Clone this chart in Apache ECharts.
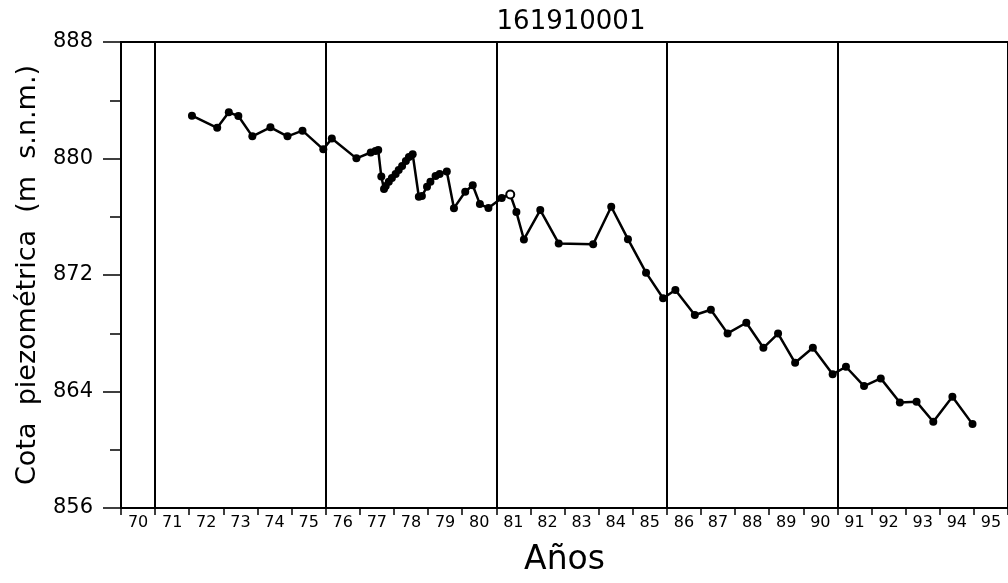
<!DOCTYPE html>
<html>
<head>
<meta charset="utf-8">
<title>161910001</title>
<script src="https://cdn.jsdelivr.net/npm/echarts@6/dist/echarts.min.js"></script>
<style>
  html, body { margin: 0; padding: 0; background: #fff; }
  #chart { width: 1008px; height: 583px; }
</style>
</head>
<body>
<div id="chart"></div>
<script>
// fecha (años decimales, 19xx) y cota piezométrica (m s.n.m.)
const years = [
  72.08, 72.82, 73.16, 73.44, 73.85, 74.38, 74.88, 75.32, 75.93, 76.18,
  76.90, 77.32, 77.46, 77.54, 77.63, 77.71, 77.76, 77.85, 77.94, 78.05,
  78.14, 78.24, 78.35, 78.44, 78.55, 78.73, 78.82, 78.97, 79.07, 79.22,
  79.34, 79.55, 79.76, 80.09, 80.31, 80.52, 80.77, 81.16, 81.41, 81.59,
  81.81, 82.29, 82.83, 83.84, 84.37, 84.86, 85.39, 85.89, 86.25, 86.82,
  87.29, 87.78, 88.33, 88.83, 89.26, 89.76, 90.28, 90.86, 91.25, 91.78,
  92.27, 92.83, 93.32, 93.81, 94.37, 94.96
]
const levels = [
  882.94, 882.11, 883.17, 882.92, 881.52, 882.14, 881.52, 881.91, 880.63, 881.37,
  880.01, 880.41, 880.51, 880.58, 878.76, 877.90, 878.11, 878.41, 878.66, 878.93,
  879.21, 879.48, 879.83, 880.10, 880.29, 877.37, 877.42, 878.06, 878.41, 878.80,
  878.93, 879.11, 876.59, 877.72, 878.16, 876.87, 876.60, 877.29, 877.53, 876.32,
  874.44, 876.46, 874.17, 874.11, 876.69, 874.46, 872.16, 870.40, 870.97, 869.25,
  869.61, 867.99, 868.72, 867.00, 867.98, 865.97, 867.00, 865.18, 865.70, 864.37,
  864.90, 863.25, 863.29, 861.92, 863.64, 861.76
]
// medida con marcador hueco
const openPoints = [38]
const yearLabels = ['70', '71', '72', '73', '74', '75', '76', '77', '78', '79', '80', '81', '82',
  '83', '84', '85', '86', '87', '88', '89', '90', '91', '92', '93', '94', '95']
const dividers = [71, 76, 81, 86, 91]

const font = 'DejaVu Sans'
const chart = echarts.init(document.getElementById('chart'), null, { renderer: 'canvas' })

const seriesData = years.map((x, i) => {
  const item = { value: [x, levels[i]] }
  if (openPoints.includes(i)) {
    item.itemStyle = { color: '#fff', borderColor: '#000', borderWidth: 2 }
  }
  return item
})

chart.setOption({
  animation: false,
  backgroundColor: '#fff',
  title: {
    text: '161910001',
    left: 566,
    top: 4,
    textAlign: 'center',
    textStyle: { fontFamily: font, fontSize: 26, fontWeight: 'normal', color: '#000' }
  },
  grid: {
    left: 121, top: 42, width: 891, height: 466,
    show: true, borderColor: '#000', borderWidth: 2, backgroundColor: 'transparent'
  },
  xAxis: [
    {
      type: 'category',
      data: yearLabels,
      boundaryGap: true,
      name: 'Años',
      nameLocation: 'middle',
      nameGap: 36,
      nameTextStyle: { fontFamily: font, fontSize: 33, color: '#000' },
      axisLine: { show: true, lineStyle: { color: '#000', width: 2 } },
      axisTick: { show: true, length: 7, lineStyle: { color: '#000', width: 1.5 } },
      axisLabel: { interval: 0, margin: 7, fontFamily: font, fontSize: 16, color: '#000' },
      splitLine: { show: false }
    },
    {
      type: 'value',
      min: 70,
      max: 96,
      show: false
    }
  ],
  yAxis: {
    type: 'value',
    min: 856,
    max: 888,
    interval: 8,
    name: 'Cota  piezométrica  (m  s.n.m.)',
    nameLocation: 'middle',
    nameRotate: 90,
    nameGap: 80,
    nameTextStyle: { fontFamily: font, fontSize: 27, color: '#000' },
    axisLine: { show: true, lineStyle: { color: '#000', width: 1 } },
    axisTick: { show: true, inside: false, length: 18, lineStyle: { color: '#000', width: 1.5 } },
    minorTick: { show: true, splitNumber: 2, length: 11, lineStyle: { color: '#000', width: 1.5 } },
    axisLabel: { margin: 28, fontFamily: font, fontSize: 21, color: '#000' },
    splitLine: { show: false }
  },
  series: [{
    type: 'line',
    xAxisIndex: 1,
    data: seriesData,
    symbol: 'circle',
    symbolSize: 8,
    lineStyle: { color: '#000', width: 2.5 },
    itemStyle: { color: '#000' },
    markLine: {
      silent: true,
      symbol: ['none', 'none'],
      label: { show: false },
      lineStyle: { color: '#000', width: 2, type: 'solid' },
      data: dividers.map(d => ({ xAxis: d }))
    }
  }]
})
</script>
</body>
</html>
